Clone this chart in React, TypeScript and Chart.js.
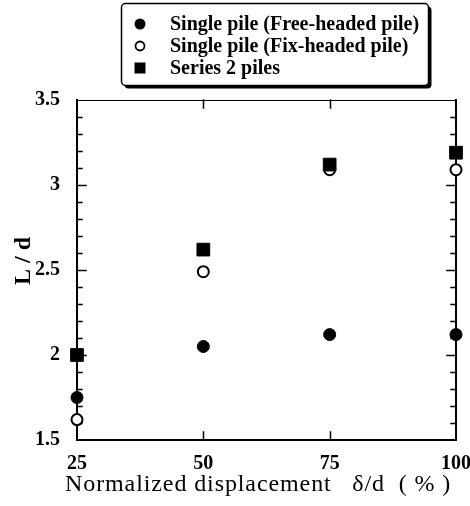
import React, { useEffect, useRef } from 'react';
import { Chart, registerables } from 'chart.js';

Chart.register(...registerables);

// ---- data ----
const xValues = [25, 50, 75, 100];
const freeHeaded = [1.75, 2.05, 2.12, 2.12];
const fixHeaded = [1.62, 2.49, 3.09, 3.09];
const series2 = [2.0, 2.62, 3.12, 3.19];
const seriesLabels = [
  'Single pile (Free-headed pile)',
  'Single pile (Fix-headed pile)',
  'Series 2 piles',
];
const xTicks = [25, 50, 75, 100];
const yMin = 1.5;
const yMax = 3.5;
const yMajorStep = 0.5;
const yMinorStep = 0.1;
const xTitle = 'Normalized displacement   δ/d  ( % )';
const yTitle = '   L / d';

const FONT = '"Liberation Serif", "Times New Roman", serif';

function drawMarker(ctx: CanvasRenderingContext2D, style: string, x: number, y: number, r: number, fill: string, stroke: string, lw: number) {
  ctx.save();
  ctx.fillStyle = fill;
  ctx.strokeStyle = stroke;
  ctx.lineWidth = lw;
  ctx.beginPath();
  if (style === 'rect') {
    ctx.rect(x - r, y - r, 2 * r, 2 * r);
  } else {
    ctx.arc(x, y, r, 0, Math.PI * 2);
  }
  ctx.fill();
  if (lw > 0) ctx.stroke();
  ctx.restore();
}

const framePlugin = {
  id: 'frame',
  beforeDatasetsDraw(chart: any) {
    const { ctx, chartArea: a, scales } = chart;
    const xs = scales.x;
    const ys = scales.y;
    ctx.save();
    ctx.strokeStyle = '#000';
    ctx.lineCap = 'square';
    // top border (thin)
    ctx.lineWidth = 1;
    ctx.beginPath();
    ctx.moveTo(a.left, a.top + 0.5);
    ctx.lineTo(a.right, a.top + 0.5);
    ctx.stroke();
    // left, bottom, right (thicker)
    ctx.lineWidth = 2;
    ctx.beginPath();
    ctx.moveTo(a.left, a.top);
    ctx.lineTo(a.left, a.bottom);
    ctx.lineTo(a.right, a.bottom);
    ctx.lineTo(a.right, a.top);
    ctx.stroke();
    // y ticks (inward, both sides)
    ctx.lineWidth = 1.5;
    const n = Math.round((ys.max - ys.min) / yMinorStep);
    for (let i = 1; i < n; i++) {
      const v = ys.min + i * yMinorStep;
      const q = v / yMajorStep;
      const major = Math.abs(q - Math.round(q)) < 1e-6;
      const len = major ? 9 : 5;
      const py = Math.round(ys.getPixelForValue(v)) + 0.5;
      ctx.beginPath();
      ctx.moveTo(a.left, py);
      ctx.lineTo(a.left + len, py);
      ctx.moveTo(a.right, py);
      ctx.lineTo(a.right - len, py);
      ctx.stroke();
    }
    // x ticks (inward, top and bottom)
    for (const v of xTicks) {
      if (v <= xs.min || v >= xs.max) continue;
      const px = Math.round(xs.getPixelForValue(v)) + 0.5;
      ctx.beginPath();
      ctx.moveTo(px, a.bottom);
      ctx.lineTo(px, a.bottom - 8);
      ctx.moveTo(px, a.top);
      ctx.lineTo(px, a.top + 8);
      ctx.stroke();
    }
    ctx.restore();
  },
  afterDraw(chart: any) {
    // x-axis title (drawn without width squeezing)
    const { ctx, chartArea: a } = chart;
    ctx.save();
    ctx.font = `24px ${FONT}`;
    (ctx as any).letterSpacing = '0.9px';
    ctx.fillStyle = '#000';
    ctx.textAlign = 'left';
    ctx.textBaseline = 'alphabetic';
    ctx.fillText(xTitle, a.left - 12, a.bottom + 51);
    (ctx as any).letterSpacing = '0px';
    ctx.restore();
  },
};

const legendPlugin = {
  id: 'boxLegend',
  afterDraw(chart: any) {
    const ctx: CanvasRenderingContext2D = chart.ctx;
    const bx = 121.5, by = 3.5, bw = 307, bh = 82;
    ctx.save();
    // shadow
    ctx.fillStyle = '#000';
    ctx.beginPath();
    (ctx as any).roundRect(bx + 3, by + 3, bw, bh, 4);
    ctx.fill();
    // box
    ctx.fillStyle = '#fff';
    ctx.strokeStyle = '#000';
    ctx.lineWidth = 1.5;
    ctx.beginPath();
    (ctx as any).roundRect(bx, by, bw, bh, 4);
    ctx.fill();
    ctx.stroke();
    ctx.font = `bold 20px ${FONT}`;
    ctx.fillStyle = '#000';
    ctx.textBaseline = 'middle';
    ctx.textAlign = 'left';
    chart.data.datasets.forEach((ds: any, i: number) => {
      const ry = 24 + i * 22;
      const style = ds.pointStyle;
      const open = ds.pointBackgroundColor === '#fff';
      const r = style === 'rect' ? 5.5 : open ? 4.5 : 5.5;
      drawMarker(ctx, style, 140, ry, r, ds.pointBackgroundColor, ds.pointBorderColor, open ? 1.8 : 0);
      ctx.fillStyle = '#000';
      ctx.fillText(ds.label, 170, ry + 1);
    });
    ctx.restore();
  },
};

export default function App() {
  const ref = useRef<HTMLCanvasElement | null>(null);
  useEffect(() => {
    if (!ref.current) return;
    const mk = (vals: number[]) => xValues.map((x, i) => ({ x, y: vals[i] }));
    const chart = new Chart(ref.current, {
      type: 'scatter',
      data: {
        datasets: [
          {
            label: seriesLabels[0],
            data: mk(freeHeaded),
            pointStyle: 'circle',
            pointRadius: 6,
            pointBorderWidth: 1,
            pointBackgroundColor: '#000',
            pointBorderColor: '#000',
            showLine: false,
            clip: false,
            order: 0,
          } as any,
          {
            label: seriesLabels[1],
            data: mk(fixHeaded),
            pointStyle: 'circle',
            pointRadius: 5.5,
            pointBorderWidth: 2,
            pointBackgroundColor: '#fff',
            pointBorderColor: '#000',
            showLine: false,
            clip: false,
            order: 2,
          } as any,
          {
            label: seriesLabels[2],
            data: mk(series2),
            pointStyle: 'rect',
            pointRadius: 9,
            pointBorderWidth: 1,
            pointBackgroundColor: '#000',
            pointBorderColor: '#000',
            showLine: false,
            clip: false,
            order: 1,
          } as any,
        ],
      },
      options: {
        responsive: false,
        animation: false,
        events: [],
        layout: { padding: { left: 0, top: 100, right: 0, bottom: 0 } },
        plugins: { legend: { display: false }, tooltip: { enabled: false } },
        scales: {
          x: {
            type: 'linear',
            min: xTicks[0],
            max: xTicks[xTicks.length - 1],
            afterFit: (s: any) => { s.height = 66; s.paddingRight = 14; s.paddingLeft = 0; },
            afterBuildTicks: (s: any) => { s.ticks = xTicks.map((v) => ({ value: v })); },
            ticks: { font: { family: FONT, size: 20, weight: 'bold' }, color: '#000', padding: 4, maxRotation: 0, autoSkip: false },
            grid: { display: false },
            border: { display: false },
            title: { display: false },
          },
          y: {
            type: 'linear',
            min: yMin,
            max: yMax,
            afterFit: (s: any) => { s.width = 77; },
            ticks: {
              stepSize: yMajorStep,
              font: { family: FONT, size: 20, weight: 'bold' },
              color: '#000',
              padding: 9,
              callback: (v: any) => String(Number(Number(v).toFixed(1))),
            },
            grid: { display: false },
            border: { display: false },
            title: { display: true, text: yTitle, font: { family: FONT, size: 24, weight: 'bold' }, color: '#000', padding: { top: 9, bottom: 0 } },
          },
        },
      } as any,
      plugins: [framePlugin, legendPlugin],
    });
    return () => chart.destroy();
  }, []);
  return (
    <div style={{ position: 'fixed', left: 0, top: 0, width: 470, height: 506, background: '#fff' }}>
      <canvas ref={ref} width={470} height={506} style={{ width: 470, height: 506, display: 'block' }} />
    </div>
  );
}
